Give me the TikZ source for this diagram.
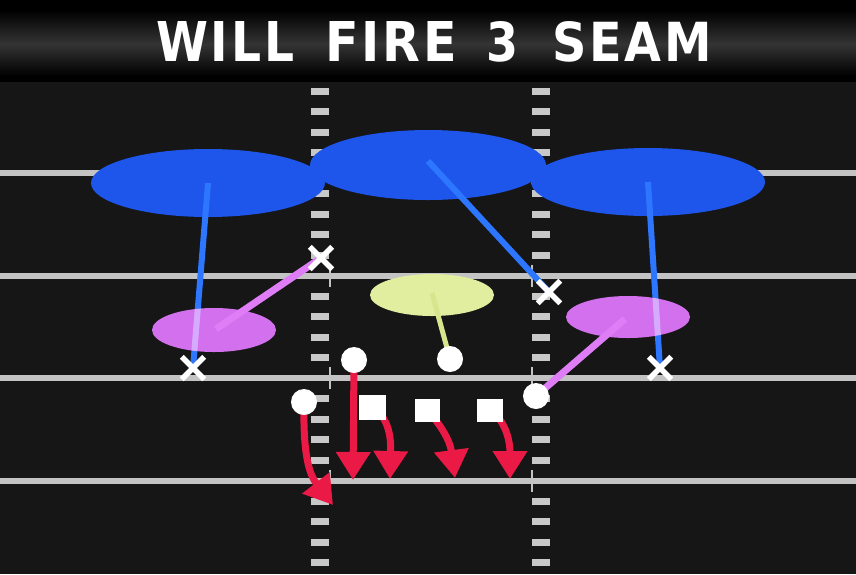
\documentclass[tikz,border=0pt]{standalone}
\usepackage{fontspec}
\usepackage{graphicx}
\setmainfont{DejaVu Sans}
\newfontfamily\titlefont[LetterSpace=6]{DejaVu Sans}
\usetikzlibrary{shapes.geometric,shapes.misc,arrows.meta}
\definecolor{fieldc}{RGB}{22,22,22}
\definecolor{titlegray}{RGB}{52,52,52}
\definecolor{yardc}{RGB}{195,195,195}
\definecolor{hashc}{RGB}{200,200,200}
\definecolor{bluez}{RGB}{30,85,235}
\definecolor{bluel}{RGB}{45,118,255}
\definecolor{purplez}{RGB}{205,98,235}
\definecolor{purplel}{RGB}{222,125,246}
\definecolor{yellowz}{RGB}{225,238,160}
\definecolor{yellowl}{RGB}{215,230,140}
\definecolor{redc}{RGB}{235,25,70}
\begin{document}
\begin{tikzpicture}[x=1pt,y=-1pt,
  zone/.style={ellipse, inner sep=0pt, draw=none},
  bluezone/.style={zone, fill=bluez, minimum width=234pt, minimum height=68pt},
  purplezone/.style={zone, fill=purplez, minimum width=124pt, minimum height=44pt},
  yellowzone/.style={zone, fill=yellowz, minimum width=124pt, minimum height=42pt},
  blueline/.style={bluel, line width=6pt},
  purpleline/.style={purplel, line width=7pt},
  yellowline/.style={yellowl, line width=5pt},
  xmark/.style={cross out, draw=white, line width=5.5pt, minimum size=17pt, inner sep=0pt},
  oplayer/.style={circle, fill=white, minimum size=26pt, inner sep=0pt},
  lineman/.style={rectangle, fill=white, minimum width=26pt, minimum height=24pt, inner sep=0pt},
  route/.style={redc, line width=7pt, -{Triangle[width=33pt,length=28pt]}},
  titleword/.style={anchor=south west, inner sep=0pt, text=white, font=\titlefont\bfseries}
]
\useasboundingbox (0,0) rectangle (856,574);
% field
\fill[fieldc] (0,0) rectangle (856,574);
% title bar
\fill[black] (0,0) rectangle (856,82);
\shade[top color=black, bottom color=titlegray] (0,10) rectangle (856,44);
\shade[top color=titlegray, bottom color=black] (0,44) rectangle (856,76);
\node[titleword] (w1) at (156,62) {\resizebox{138pt}{40pt}{WILL}};
\node[titleword] (w2) at (325,62) {\resizebox{132pt}{40pt}{FIRE}};
\node[titleword] (w3) at (486,62) {\resizebox{32pt}{40pt}{3}};
\node[titleword] (w4) at (552,62) {\resizebox{160pt}{40pt}{SEAM}};
% yard lines
\foreach \yy in {173,275.5,378,480.5} {
  \fill[yardc] (0,{\yy-3}) rectangle (856,{\yy+3});
  \draw[yardc, line width=2.5pt] (330,{\yy-11}) -- (330,{\yy+11});
  \draw[yardc, line width=2.5pt] (532,{\yy-11}) -- (532,{\yy+11});
}
% hash marks
\foreach \k in {-4,-3,-2,-1,1,2,3,4,6,7,8,9,11,12,13,14,16,17,18,19} {
  \fill[hashc] (311,{173+20.5*(\k)-3.5}) rectangle (329,{173+20.5*(\k)+3.5});
  \fill[hashc] (532,{173+20.5*(\k)-3.5}) rectangle (550,{173+20.5*(\k)+3.5});
}
% deep zones
\node[bluezone] (bl) at (208,183) {};
\node[bluezone] (br) at (648,182) {};
\node[bluezone, minimum width=236pt, minimum height=70pt] (bm) at (428,165) {};
% defender spots
\coordinate (xa) at (321,258);
\coordinate (xb) at (549,292);
\coordinate (xc) at (193,368);
\coordinate (xd) at (660,368);
% offensive spots
\coordinate (po1) at (304,402);
\coordinate (po2) at (354,360);
\coordinate (po3) at (450,359);
\coordinate (po4) at (536,396);
\coordinate (ps1) at (372,407);
\coordinate (ps2) at (427,410);
\coordinate (ps3) at (490,410);
% blue drops
\draw[blueline] (bl.center) -- (xc);
\draw[blueline] ([yshift=4pt]bm.center) -- (xb);
\draw[blueline] (br.center) -- (xd);
% underneath zones
\begin{scope}[blend mode=screen]
\node[purplezone] (pl) at (214,330) {};
\node[purplezone, minimum height=42pt] (pr) at (628,317) {};
\end{scope}
\node[yellowzone] (yc) at (432,295) {};
\draw[purpleline] ([shift={(2pt,1pt)}]pl.center) -- (xa);
\draw[purpleline] ([shift={(-3pt,-2pt)}]pr.center) -- (po4);
\draw[yellowline] ([yshift=2pt]yc.center) -- (po3);
% defenders
\node[xmark] (da) at (xa) {};
\node[xmark] (db) at (xb) {};
\node[xmark] (dc) at (xc) {};
\node[xmark] (dd) at (xd) {};
% routes
\coordinate (t1) at (333,505);
\coordinate (t2) at (353,480);
\coordinate (t3) at (390,479);
\coordinate (t4) at (455,478);
\coordinate (t5) at (510,479);
\draw[route] (po1) .. controls (303,455) and (309,474) .. (t1);
\draw[route] (po2) -- (t2);
\draw[route] (ps1) .. controls (390,418) and (391,440) .. (t3);
\draw[route] (ps2) .. controls (440,424) and (450,440) .. (t4);
\draw[route] (ps3) .. controls (505,420) and (510,440) .. (t5);
% offense
\node[oplayer] (o1) at (po1) {};
\node[oplayer] (o2) at (po2) {};
\node[oplayer] (o3) at (po3) {};
\node[oplayer] (o4) at (po4) {};
\node[lineman, minimum width=27pt, minimum height=25pt] (s1) at (ps1) {};
\node[lineman, minimum width=25pt, minimum height=23pt] (s2) at (ps2) {};
\node[lineman, minimum width=26pt, minimum height=23pt] (s3) at (ps3) {};
\end{tikzpicture}
\end{document}
